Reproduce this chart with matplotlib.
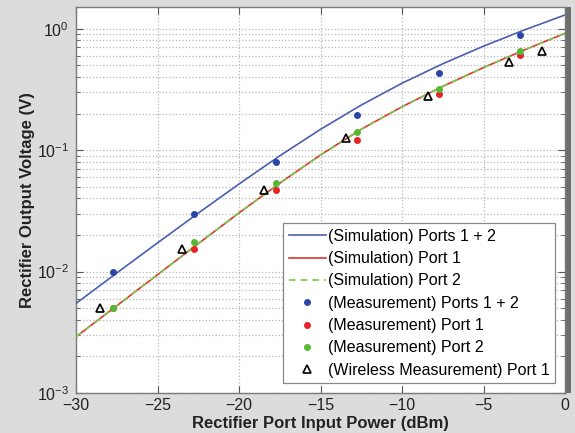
import matplotlib
matplotlib.use("Agg")
import matplotlib.pyplot as plt
from matplotlib.patches import Rectangle
from matplotlib.ticker import LogLocator, NullFormatter

plt.rcParams['font.family'] = ['Liberation Sans', 'DejaVu Sans']
plt.rcParams['mathtext.fontset'] = 'custom'
plt.rcParams['mathtext.rm'] = 'Liberation Sans'
plt.rcParams['mathtext.it'] = 'Liberation Sans:italic'
plt.rcParams['mathtext.bf'] = 'Liberation Sans:bold'

# Simulated rectifier output (V) vs. input power (dBm)
sim_power = [-30, -27.5, -25, -22.5, -20, -17.5, -15, -12.5, -10, -7.5, -5, -2.5, 0]
sim_ports12 = [0.00546, 0.00973, 0.01722, 0.03027, 0.0526, 0.08974, 0.1483,
               0.235, 0.3556, 0.514, 0.7178, 0.975, 1.297]
sim_port1 = [0.002904, 0.005224, 0.00942, 0.01698, 0.0304, 0.05346, 0.0912,
             0.1486, 0.2275, 0.335, 0.4786, 0.668, 0.916]
sim_port2 = [0.002904, 0.005224, 0.00942, 0.01698, 0.0304, 0.05346, 0.0912,
             0.1486, 0.2275, 0.335, 0.4786, 0.668, 0.916]

# Wired measurements
meas_power = [-27.75, -22.75, -17.75, -12.75, -7.75, -2.75]
meas_ports12 = [0.0100, 0.0296, 0.0805, 0.195, 0.435, 0.885]
meas_port1 = [0.0050, 0.0152, 0.0466, 0.122, 0.288, 0.611]
meas_port2 = [0.0050, 0.0174, 0.0538, 0.140, 0.316, 0.650]

# Wireless measurement
wl_power = [-28.5, -23.5, -18.45, -13.45, -8.42, -3.45, -1.39]
wl_port1 = [0.0050, 0.0152, 0.0466, 0.125, 0.279, 0.527, 0.655]

x_ticks = [-30, -25, -20, -15, -10, -5, 0]

fig = plt.figure(figsize=(5.75, 4.33), dpi=100, facecolor='#dcdcdc')
W, H = 575.0, 433.0
ax = fig.add_axes([76 / W, (H - 393) / H, (565 - 76) / W, (393 - 7.3) / H])
ax.set_facecolor('white')

blue_line = '#4a5fb0'
red_line = '#e0332e'
green_line = '#7cc84e'

ax.plot(sim_power, sim_ports12, color=blue_line, lw=1.2, label='(Simulation) Ports 1 + 2', zorder=3)
ax.plot(sim_power, sim_port1, color=red_line, lw=1.2, label='(Simulation) Port 1', zorder=3)
ax.plot(sim_power, sim_port2, color=green_line, lw=1.2, ls=(0, (4, 3)), label='(Simulation) Port 2', zorder=4)

ax.plot(meas_power, meas_ports12, ls='none', marker='o', ms=4, color='#2c46a8',
        label='(Measurement) Ports 1 + 2', zorder=5)
ax.plot(meas_power, meas_port1, ls='none', marker='o', ms=4, color='#e52525',
        label='(Measurement) Port 1', zorder=5)
ax.plot(meas_power, meas_port2, ls='none', marker='o', ms=4, color='#55b835',
        label='(Measurement) Port 2', zorder=6)
ax.plot(wl_power, wl_port1, ls='none', marker='^', ms=5.5, mfc='none', mec='black',
        mew=1.2, label='(Wireless Measurement) Port 1', zorder=7)

ax.set_yscale('log')
ax.set_xlim(-30, 0)
ax.set_ylim(1e-3, 1.5)
ax.set_xticks(x_ticks)
ax.set_xticklabels(['\u2212' + str(abs(t)) if t < 0 else str(t) for t in x_ticks])
ax.yaxis.set_major_locator(LogLocator(base=10, numticks=10))
ax.yaxis.set_minor_locator(LogLocator(base=10, subs=range(2, 10), numticks=20))
ax.yaxis.set_minor_formatter(NullFormatter())

ax.grid(True, which='major', axis='both', ls=':', color='#b8b8b8', lw=0.9)
ax.grid(True, which='minor', axis='y', ls=':', color='#b8b8b8', lw=0.9)
ax.set_axisbelow(True)

ax.tick_params(which='both', direction='in', top=True, right=True, colors='#555555',
               labelcolor='#222222')
ax.tick_params(which='major', length=5, labelsize=11.5)
ax.tick_params(axis='y', which='major', pad=5)
ax.tick_params(which='minor', length=3)
for s in ax.spines.values():
    s.set_color('#7a7a7a')
    s.set_linewidth(1.0)

ax.set_xlabel('Rectifier Port Input Power (dBm)', fontsize=12, fontweight='bold',
              color='#222222', labelpad=2)
ax.set_ylabel('Rectifier Output Voltage (V)', fontsize=12, fontweight='bold',
              color='#222222', labelpad=1)

leg = ax.legend(loc='lower right', fontsize=11.5, frameon=True, fancybox=False,
                edgecolor='#888888', framealpha=1, handlelength=2.3, handletextpad=0.15,
                labelspacing=0.46, borderpad=0.35, borderaxespad=0.6)
leg.get_frame().set_linewidth(0.9)

# shaded right edge of the plot frame
fig.patches.append(Rectangle((566 / W, (H - 393) / H), 5 / W, (393 - 7) / H,
                             transform=fig.transFigure, facecolor='#6e6e6e',
                             edgecolor='none', zorder=10))

fig.savefig('out.png', dpi=100, facecolor=fig.get_facecolor())
